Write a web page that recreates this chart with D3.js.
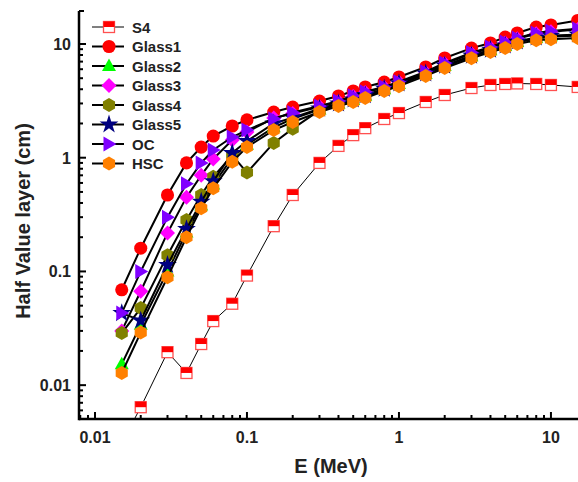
<!DOCTYPE html>
<html lang="en">
<head>
<meta charset="UTF-8">
<title>Half Value layer vs E</title>
<script src="https://d3js.org/d3.v7.min.js"></script>
<style>
    body { margin: 0; background: #fff; font-family: Arial, "Liberation Sans", sans-serif; }
    svg text { font-weight: bold; fill: #222; }
</style>
</head>
<body>
<svg width="578" height="482"></svg>
<script>
    // photon energies (MeV)
    const energies = [0.015, 0.02, 0.03, 0.04, 0.05, 0.06, 0.08, 0.1, 0.15, 0.2, 0.3, 0.4, 0.5,
        0.6, 0.8, 1, 1.5, 2, 3, 4, 5, 6, 8, 10, 15];

    // half value layer (cm) per sample
    const s4 = [0.0031, 0.0064, 0.0195, 0.0128, 0.023, 0.0366, 0.052, 0.092, 0.25, 0.47, 0.90, 1.27, 1.58,
        1.82, 2.19, 2.47, 3.09, 3.56, 4.1, 4.36, 4.45, 4.5, 4.45, 4.36, 4.19];
    const glass1 = [0.069, 0.16, 0.47, 0.90, 1.24, 1.55, 1.90, 2.15, 2.52, 2.79, 3.15, 3.49, 3.86,
        4.19, 4.63, 5.13, 6.28, 7.53, 9.2, 10.2, 11.5, 12.5, 14.1, 14.7, 16.1];
    const glass2 = [0.0153, 0.034, 0.10, 0.22, 0.38, 0.58, 1.0, 1.3, 1.85, 2.2, 2.65, 2.98, 3.22,
        3.5, 4.0, 4.45, 5.45, 6.4, 7.8, 8.8, 9.6, 10.4, 11.3, 11.7, 12.0];
    const glass3 = [0.030, 0.067, 0.218, 0.45, 0.70, 0.975, 1.43, 1.68, 2.23, 2.45, 2.8, 3.1, 3.45,
        3.75, 4.15, 4.6, 5.6, 6.7, 8.2, 9.2, 10.2, 11.1, 12.3, 12.8, 13.4];
    const glass4 = [0.0287, 0.0476, 0.139, 0.283, 0.47, 0.68, 1.05, 0.74, 1.35, 1.8, 2.6, 2.95, 3.2,
        3.45, 3.95, 4.4, 5.4, 6.35, 7.75, 8.75, 9.5, 10.3, 11.2, 11.6, 11.9];
    const glass5 = [0.043, 0.037, 0.114, 0.236, 0.41, 0.62, 1.1, 1.4, 2.0, 2.25, 2.7, 3.0, 3.25,
        3.55, 4.05, 4.5, 5.5, 6.45, 7.9, 8.9, 9.7, 10.5, 11.4, 11.8, 12.1];
    const oc = [0.043, 0.10, 0.30, 0.59, 0.90, 1.17, 1.52, 1.75, 2.2, 2.5, 2.85, 3.15, 3.5,
        3.8, 4.2, 4.65, 5.7, 6.8, 8.4, 9.4, 10.4, 11.3, 12.5, 13.0, 13.6];
    const hsc = [0.0128, 0.029, 0.089, 0.20, 0.36, 0.54, 0.92, 1.24, 1.75, 2.06, 2.52, 2.85, 3.09,
        3.35, 3.86, 4.26, 5.24, 6.15, 7.5, 8.5, 9.2, 10.0, 10.8, 11.0, 11.3];

    const seriesNames = ["S4", "Glass1", "Glass2", "Glass3", "Glass4", "Glass5", "OC", "HSC"];
    const seriesValues = [s4, glass1, glass2, glass3, glass4, glass5, oc, hsc];
    const seriesColors = ["#ff0000", "#ff0000", "#00ff00", "#ff00ff", "#808000", "#000080", "#8000ff", "#ff8000"];
    const seriesSymbols = ["halfsquare", "circle", "triangle", "diamond", "hexagon", "star", "righttri", "hexagon"];

    const xTickLabels = ["0.01", "0.1", "1", "10"];
    const yTickLabels = ["0.01", "0.1", "1", "10"];

    const svg = d3.select("svg");
    const plotLeft = 79, plotBottom = 419, plotTop = 11;

    const x = d3.scaleLog().domain([0.00785, 20]).range([plotLeft, 596.7]);
    const y = d3.scaleLog().domain([0.00504, 19.5]).range([plotBottom, plotTop]);

    svg.append("defs").append("clipPath").attr("id", "plot")
        .append("rect").attr("x", plotLeft).attr("y", 0).attr("width", 600).attr("height", plotBottom);

    // symbol paths
    function symbolPath(kind) {
        if (kind === "circle") return d3.symbol(d3.symbolCircle, 135)();
        if (kind === "triangle") return "M0,-7.5L7,5L-7,5Z";
        if (kind === "diamond") return "M0,-7.5L7.5,0L0,7.5L-7.5,0Z";
        if (kind === "righttri") return "M-5.5,-7.5L7.5,0L-5.5,7.5Z";
        if (kind === "star") return d3.symbol(d3.symbolStar, 110)();
        if (kind === "hexagon") {
            const r = 7;
            return d3.range(6).map((i, k) => {
                const a = Math.PI / 3 * i - Math.PI / 2;
                return (k ? "L" : "M") + (r * Math.cos(a)).toFixed(2) + "," + (r * Math.sin(a)).toFixed(2);
            }).join("") + "Z";
        }
        return null;
    }

    function drawMarker(g, kind, color) {
        if (kind === "halfsquare") {
            g.append("rect").attr("x", -5.5).attr("y", -5.5).attr("width", 11).attr("height", 11)
                .attr("fill", "#fff").attr("stroke", "#ff5050").attr("stroke-width", 1.3);
            g.append("rect").attr("x", -5.5).attr("y", -5.5).attr("width", 11).attr("height", 5.5)
                .attr("fill", color);
        } else {
            g.append("path").attr("d", symbolPath(kind)).attr("fill", color);
        }
    }

    const plot = svg.append("g").attr("clip-path", "url(#plot)");
    const line = d3.line().x(d => x(d[0])).y(d => y(d[1]));

    seriesValues.forEach((vals, i) => {
        const pts = energies.map((e, j) => [e, vals[j]]);
        const g = plot.append("g");
        g.append("path").datum(pts).attr("d", line).attr("fill", "none")
            .attr("stroke", "#000").attr("stroke-width", i === 0 ? 1 : 2);
        g.selectAll("g.m").data(pts).join("g").attr("class", "m")
            .attr("transform", d => `translate(${x(d[0])},${y(d[1])})`)
            .each(function() { drawMarker(d3.select(this), seriesSymbols[i], seriesColors[i]); });
    });

    // axes: inward ticks, major + minor
    const xMajor = xTickLabels.map(Number);
    const xMinor = x.ticks().filter(t => !xMajor.includes(+t.toPrecision(3)));
    const yMajor = yTickLabels.map(Number);
    const yMinor = y.ticks().filter(t => !yMajor.includes(+t.toPrecision(3)));

    const ax = svg.append("g");
    ax.selectAll("line.xmin").data(xMinor).join("line")
        .attr("x1", d => x(d)).attr("x2", d => x(d)).attr("y1", plotBottom).attr("y2", plotBottom - 4)
        .attr("stroke", "#000").attr("stroke-width", 2);
    ax.selectAll("line.xmaj").data(xMajor).join("line")
        .attr("x1", d => x(d)).attr("x2", d => x(d)).attr("y1", plotBottom).attr("y2", plotBottom - 7)
        .attr("stroke", "#000").attr("stroke-width", 2);
    ax.selectAll("line.ymin").data(yMinor).join("line")
        .attr("y1", d => y(d)).attr("y2", d => y(d)).attr("x1", plotLeft).attr("x2", plotLeft + 4)
        .attr("stroke", "#000").attr("stroke-width", 2);
    ax.selectAll("line.ymaj").data(yMajor).join("line")
        .attr("y1", d => y(d)).attr("y2", d => y(d)).attr("x1", plotLeft).attr("x2", plotLeft + 7)
        .attr("stroke", "#000").attr("stroke-width", 2);

    ax.append("line").attr("x1", plotLeft).attr("x2", 578).attr("y1", plotBottom).attr("y2", plotBottom)
        .attr("stroke", "#000").attr("stroke-width", 2.5);
    ax.append("line").attr("x1", plotLeft).attr("x2", plotLeft).attr("y1", plotTop).attr("y2", plotBottom + 1.2)
        .attr("stroke", "#000").attr("stroke-width", 2.5);
    ax.append("line").attr("x1", plotLeft).attr("x2", plotLeft + 5).attr("y1", plotTop).attr("y2", plotTop)
        .attr("stroke", "#000").attr("stroke-width", 2);

    ax.selectAll("text.xl").data(xTickLabels).join("text")
        .attr("x", d => x(+d)).attr("y", plotBottom + 24).attr("text-anchor", "middle")
        .attr("font-size", 16).text(d => d);
    ax.selectAll("text.yl").data(yTickLabels).join("text")
        .attr("x", plotLeft - 8).attr("y", d => y(+d) + 6).attr("text-anchor", "end")
        .attr("font-size", 16).text(d => d);

    svg.append("text").attr("x", 331).attr("y", 473).attr("text-anchor", "middle")
        .attr("font-size", 20).text("E (MeV)");
    svg.append("text").attr("transform", "translate(30,221) rotate(-90)").attr("text-anchor", "middle")
        .attr("font-size", 20).text("Half Value layer (cm)");

    // legend
    const legend = svg.append("g");
    seriesNames.forEach((name, i) => {
        const ly = 27 + i * 19.5;
        const row = legend.append("g").attr("transform", `translate(109,${ly})`);
        row.append("line").attr("x1", -17).attr("x2", 15).attr("stroke", "#000")
            .attr("stroke-width", i === 0 ? 1 : 2);
        drawMarker(row.append("g"), seriesSymbols[i], seriesColors[i]);
        row.append("text").attr("x", 23).attr("y", 5.5).attr("font-size", 15).text(name);
    });
</script>
</body>
</html>
